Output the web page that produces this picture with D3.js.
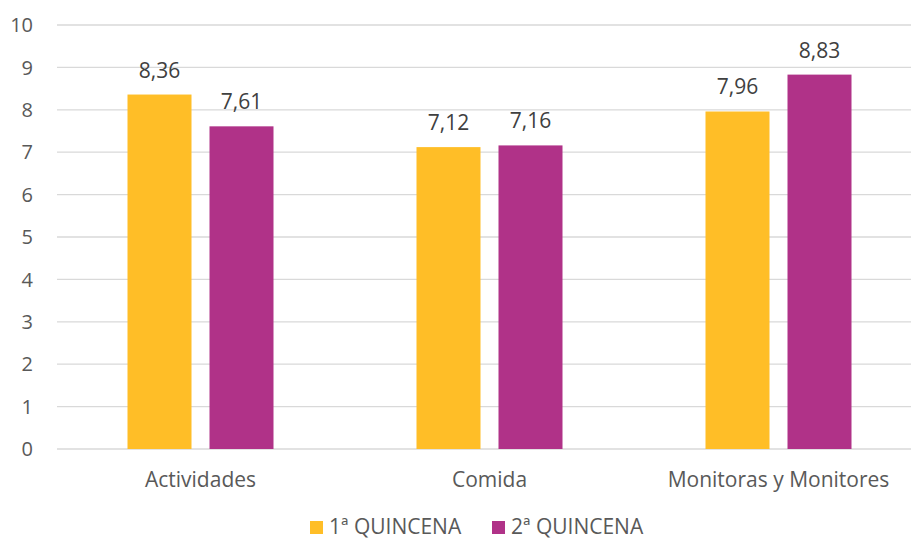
<!doctype html>
<html>
<head>
    <meta charset="UTF-8">
    <title>Quincenas</title>
    <script src="https://d3js.org/d3.v7.min.js"></script>
    <style>
        body { margin: 0; background: #fff; }
        text { font-family: "Open Sans", "Liberation Sans", sans-serif; }
    </style>
</head>
<body>
<script>
    // valores por categoria
    var categories = ["Actividades", "Comida", "Monitoras y Monitores"];
    var series = ["1ª QUINCENA", "2ª QUINCENA"];
    var quincena1 = [8.36, 7.12, 7.96];
    var quincena2 = [7.61, 7.16, 8.83];
    var yTicks = [0, 1, 2, 3, 4, 5, 6, 7, 8, 9, 10];
    var colors = ["#FFBE27", "#B03288"];

    var w = 911, h = 542;
    var svg = d3.select("body").append("svg").attr("width", w).attr("height", h);

    var y = d3.scaleLinear().domain([0, 10]).range([449, 25]);
    var x = d3.scaleBand().domain(categories).range([56, 56 + 3 * 289]);
    var xs = d3.scaleBand().domain(series).range([0, 146]).paddingInner(0.2195);

    // lineas de la rejilla
    svg.append("g").selectAll("line").data(yTicks).enter().append("line")
        .attr("x1", 57).attr("x2", w)
        .attr("y1", function (d) { return y(d); })
        .attr("y2", function (d) { return y(d); })
        .attr("stroke", "#d9d9d9").attr("stroke-width", 1.3);

    svg.append("g").selectAll("text").data(yTicks).enter().append("text")
        .attr("x", 33).attr("y", function (d) { return y(d); })
        .attr("dy", "0.36em").attr("text-anchor", "end")
        .attr("font-size", 20).attr("fill", "#595959")
        .text(function (d) { return d; });

    var data = [];
    categories.forEach(function (c, i) {
        data.push({ cat: c, s: series[0], v: quincena1[i], k: 0 });
        data.push({ cat: c, s: series[1], v: quincena2[i], k: 1 });
    });

    function barX(d) {
        return x(d.cat) + x.bandwidth() / 2 - 73 + xs(d.s);
    }

    svg.append("g").selectAll("rect").data(data).enter().append("rect")
        .attr("x", barX)
        .attr("y", function (d) { return y(d.v); })
        .attr("width", xs.bandwidth())
        .attr("height", function (d) { return y(0) - y(d.v); })
        .attr("fill", function (d) { return colors[d.k]; });

    svg.append("g").selectAll("text").data(data).enter().append("text")
        .attr("x", function (d) { return barX(d) + xs.bandwidth() / 2; })
        .attr("y", function (d) { return y(d.v) - 17; })
        .attr("text-anchor", "middle")
        .attr("font-size", 21).attr("fill", "#404040")
        .text(function (d) { return d.v.toFixed(2).replace(".", ","); });

    svg.append("g").selectAll("text").data(categories).enter().append("text")
        .attr("x", function (d) { return x(d) + x.bandwidth() / 2; })
        .attr("y", 487)
        .attr("text-anchor", "middle")
        .attr("font-size", 21).attr("fill", "#595959")
        .text(function (d) { return d; });

    // leyenda
    var legX = [310, 492];
    var leg = svg.append("g").selectAll("g").data(series).enter().append("g")
        .attr("transform", function (d, i) { return "translate(" + legX[i] + ",0)"; });
    leg.append("rect").attr("x", 0).attr("y", 521).attr("width", 13).attr("height", 13)
        .attr("fill", function (d, i) { return colors[i]; });
    leg.append("text").attr("x", 19).attr("y", 534)
        .attr("font-size", 21).attr("fill", "#595959")
        .text(function (d) { return d; });
</script>
</body>
</html>
